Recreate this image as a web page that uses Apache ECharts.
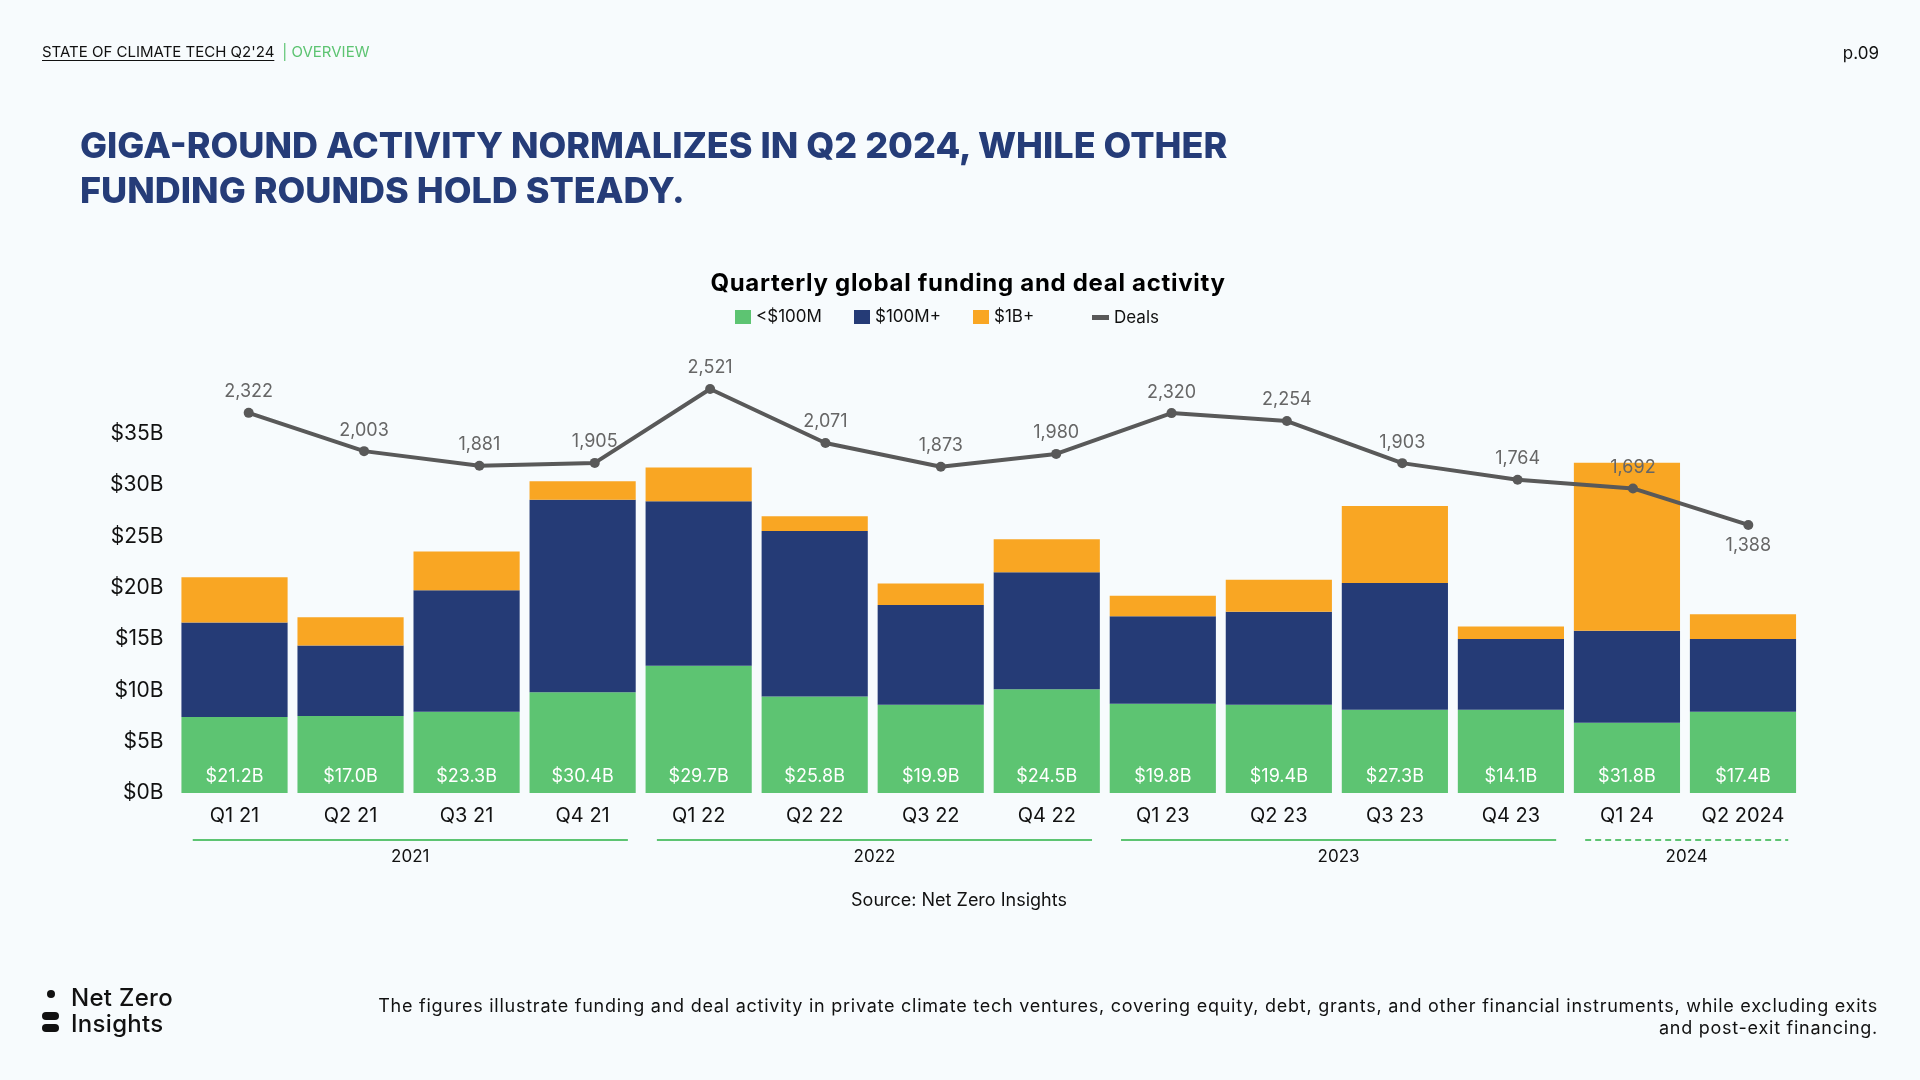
<!DOCTYPE html>
<html><head><meta charset="utf-8">
<script src="https://cdn.jsdelivr.net/npm/echarts@6/dist/echarts.min.js"></script>
<style>
html,body{margin:0;padding:0;background:#F7FBFD;width:1920px;height:1080px;overflow:hidden;font-family:Inter,"Open Sans",sans-serif;}
#chart{position:absolute;left:0;top:0;width:1920px;height:1080px;}
.abs{position:absolute;white-space:nowrap;}
</style></head><body>
<div id="chart"></div>
<div class="abs" style="left:42px;top:40px;font-size:15px;line-height:24px;color:#111;"><span style="text-decoration:underline;text-underline-offset:3px;">STATE OF CLIMATE TECH Q2'24</span><span style="color:#5DC472;margin-left:8px;">| OVERVIEW</span></div>
<div class="abs" style="right:41px;top:41px;font-size:17px;line-height:24px;color:#111;">p.09</div>
<div class="abs" style="left:80px;top:123px;font-size:36px;font-weight:800;line-height:45px;color:#253C78;">GIGA-ROUND ACTIVITY NORMALIZES IN Q2 2024, WHILE OTHER<br>FUNDING ROUNDS HOLD STEADY.</div>
<div class="abs" style="left:668px;width:600px;text-align:center;top:268px;font-size:24px;font-weight:700;letter-spacing:0.7px;line-height:30px;color:#000;">Quarterly global funding and deal activity</div>
<div class="abs" style="left:759px;width:400px;text-align:center;top:888px;font-size:18px;line-height:24px;color:#111;">Source: Net Zero Insights</div>
<div class="abs" style="left:47px;top:990px;width:8px;height:8px;border-radius:50%;background:#111;"></div>
<div class="abs" style="left:42px;top:1012px;width:17px;height:8px;border-radius:4px;background:#111;"></div>
<div class="abs" style="left:42px;top:1024px;width:17px;height:8px;border-radius:4px;background:#111;"></div>
<div class="abs" style="left:71px;top:985px;font-size:24px;font-weight:500;letter-spacing:0.3px;line-height:26px;color:#111;">Net Zero<br>Insights</div>
<div class="abs" style="right:42px;top:995px;font-size:18px;letter-spacing:0.75px;line-height:22px;color:#111;text-align:right;">The figures illustrate funding and deal activity in private climate tech ventures, covering equity, debt, grants, and other financial instruments, while excluding exits<br>and post-exit financing.</div>
<script>
const categories = ['Q1 21','Q2 21','Q3 21','Q4 21','Q1 22','Q2 22','Q3 22','Q4 22','Q1 23','Q2 23','Q3 23','Q4 23','Q1 24','Q2 2024'];
const under100M = [7.4, 7.5, 7.9, 9.8, 12.4, 9.4, 8.6, 10.1, 8.7, 8.6, 8.1, 8.1, 6.85, 7.9];
const over100M  = [9.2, 6.85, 11.85, 18.75, 16.0, 16.1, 9.7, 11.4, 8.5, 9.05, 12.35, 6.9, 8.95, 7.1];
const over1B    = [4.4, 2.75, 3.75, 1.8, 3.3, 1.45, 2.1, 3.2, 2.0, 3.1, 7.5, 1.2, 16.35, 2.4];
const totals    = [21.2, 17.0, 23.3, 30.4, 29.7, 25.8, 19.9, 24.5, 19.8, 19.4, 27.3, 14.1, 31.8, 17.4];
const deals     = [2322, 2003, 1881, 1905, 2521, 2071, 1873, 1980, 2320, 2254, 1903, 1764, 1692, 1388];
const yTicks    = [0, 5, 10, 15, 20, 25, 30, 35];
const years      = ['2021','2022','2023','2024'];
const yearFirst  = [0, 4, 8, 12];
const yearLast   = [3, 7, 11, 13];
const yearDashed = [false, false, false, true];

const FONT = 'Inter, "Open Sans", sans-serif';
const GREEN = '#5DC472', NAVY = '#253B76', ORANGE = '#F9A623', GREY = '#595959';

const chart = echarts.init(document.getElementById('chart'));
const legendBase = {orient:'horizontal', itemWidth:16, itemHeight:14, itemGap:30, top:303.5,
  textStyle:{fontSize:17, color:'#111', fontFamily:FONT}};
const option = {
  backgroundColor: 'transparent',
  animation: false,
  legend: [
    Object.assign({}, legendBase, {left:730, data:[{name:'<$100M', icon:'rect'}]}),
    Object.assign({}, legendBase, {left:849, data:[{name:'$100M+', icon:'rect'}]}),
    Object.assign({}, legendBase, {left:968, data:[{name:'$1B+', icon:'rect'}]}),
    Object.assign({}, legendBase, {left:1087, itemWidth:17, itemHeight:5, top:304,
      data:[{name:'Deals', icon:'path://M0,0h17v5h-17z'}]})
  ],
  grid: [
    {left:176.5, right:119, top:433.5, bottom:287},
    {left:191, right:114, top:331.5, bottom:388.5}
  ],
  xAxis: [
    {type:'category', gridIndex:0, data:categories, axisLine:{show:false}, axisTick:{show:false},
      axisLabel:{fontSize:20, color:'#111', margin:13, fontFamily:FONT}},
    {type:'category', gridIndex:1, data:categories, show:false}
  ],
  yAxis: [
    {type:'value', gridIndex:0, min:yTicks[0], max:yTicks[yTicks.length-1], interval:yTicks[1]-yTicks[0],
      splitLine:{show:false}, axisLine:{show:false}, axisTick:{show:false},
      axisLabel:{formatter:v => '$' + v + 'B', fontSize:21, color:'#111', margin:13, fontFamily:FONT}},
    {type:'value', gridIndex:1, min:0, max:3000, show:false}
  ],
  series: [
    {name:'<$100M', type:'bar', stack:'f', data:under100M, barWidth:'91.5%', itemStyle:{color:GREEN},
      label:{show:true, position:'insideBottom', distance:7, color:'#fff', fontSize:18, fontFamily:FONT,
        formatter:p => '$' + totals[p.dataIndex].toFixed(1) + 'B'}},
    {name:'$100M+', type:'bar', stack:'f', data:over100M, itemStyle:{color:NAVY}},
    {name:'$1B+', type:'bar', stack:'f', data:over1B, itemStyle:{color:ORANGE}},
    {name:'Deals', type:'line', xAxisIndex:1, yAxisIndex:1, z:5,
      data:deals.map((v,i) => i === deals.length-1 ? {value:v, label:{position:'bottom'}} : v),
      symbol:'circle', symbolSize:10, lineStyle:{color:GREY, width:4}, itemStyle:{color:GREY},
      label:{show:true, position:'top', distance:7, color:'#666', fontSize:18, fontFamily:FONT,
        formatter:p => p.value.toLocaleString('en-US')}}
  ]
};
chart.setOption(option);

const bw = chart.convertToPixel({xAxisIndex:0}, 1) - chart.convertToPixel({xAxisIndex:0}, 0);
const graphics = [];
years.forEach((y, i) => {
  const x1 = chart.convertToPixel({xAxisIndex:0}, yearFirst[i]) - 0.36*bw;
  const x2 = chart.convertToPixel({xAxisIndex:0}, yearLast[i]) + 0.39*bw;
  graphics.push({type:'line', shape:{x1:x1, y1:840, x2:x2, y2:840},
    style:{stroke:GREEN, lineWidth:2, lineDash: yearDashed[i] ? [6,4] : null}});
  graphics.push({type:'text', x:(x1+x2)/2, y:857,
    style:{text:y, fill:'#111', font:'17px ' + FONT, textAlign:'center', textVerticalAlign:'middle'}});
});
chart.setOption({graphic: graphics});
</script>
</body></html>
